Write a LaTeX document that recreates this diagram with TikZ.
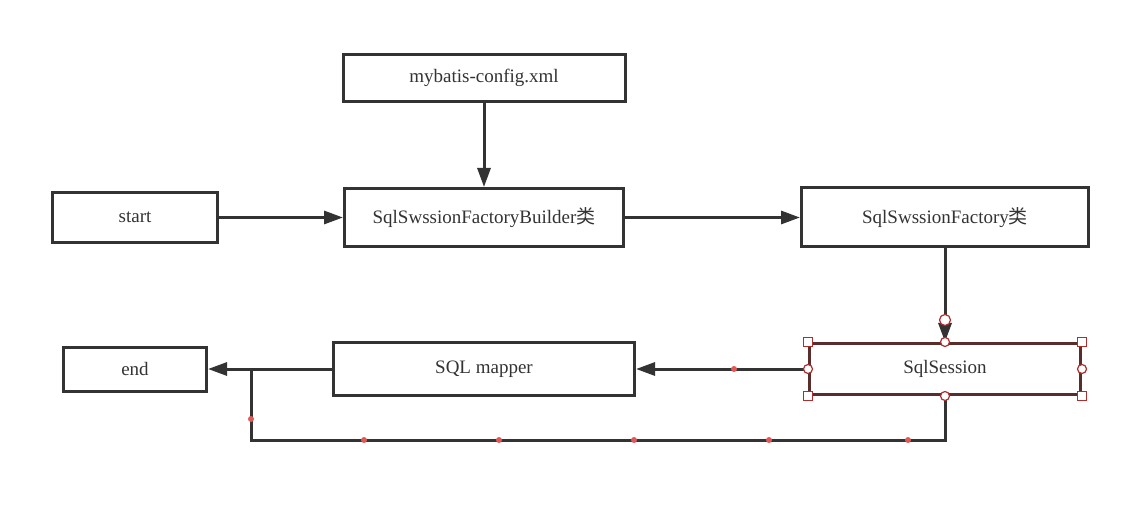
\documentclass[tikz,border=0pt]{standalone}
\usepackage{fontspec}
\setmainfont{Liberation Serif}
\newfontfamily\cjk{Noto Sans CJK SC}
\usetikzlibrary{arrows.meta,positioning}
\definecolor{flLine}{RGB}{51,51,51}
\definecolor{flSel}{RGB}{90,45,45}
\definecolor{flHandle}{RGB}{175,45,45}
\definecolor{flDot}{RGB}{225,88,88}

\begin{document}
\begin{tikzpicture}[x=1pt, y=-1pt,
  font=\fontsize{19}{23}\selectfont,
  box/.style={draw=flLine, line width=3pt, inner sep=0pt, align=center, text=flLine},
  arr/.style={-{Triangle[length=19pt, width=13pt]}, line width=3pt, draw=flLine},
  wire/.style={line width=3pt, draw=flLine},
  hsq/.style={draw=flHandle, fill=white, line width=1.2pt},
  hci/.style={draw=flHandle, fill=white, line width=1.2pt},
]
\useasboundingbox (0,0) rectangle (1145,510);
% top row
\node[box, minimum width=282pt, minimum height=47pt] (cfg) at (484,78) {mybatis-config.xml};
\node[box, minimum width=165pt, minimum height=50pt] (start) at (135,217.5) {start};
\node[box, minimum width=279pt, minimum height=58pt] (builder) at (484,217.5) {SqlSwssionFactoryBuilder{\cjk 类}};
\node[box, minimum width=287pt, minimum height=59pt] (factory) at (945,217.5) {SqlSwssionFactory{\cjk 类}};
% bottom row
\node[box, draw=flSel, minimum width=271pt, minimum height=51pt] (session) at (945,369) {SqlSession};
\node[box, minimum width=301pt, minimum height=53pt] (mapper) at (484,369) {SQL mapper};
\node[box, minimum width=143pt, minimum height=44pt] (end) at (135,369) {end};
% connectors
\draw[arr] (cfg) -- (builder);
\draw[arr] (start) -- (builder);
\draw[arr] (builder) -- (factory);
\draw[arr] (factory) -- (session);
\draw[arr] (session) -- (mapper);
\draw[arr] (mapper) -- (end);
\coordinate (join) at (251,369);
\draw[wire, line join=miter] (session.south) -- ++(0,44) -| (join);
% waypoints on the connectors
\foreach \p in {(734,369),(251,419),(364,440),(499,440),(634,440),(769,440),(908,440)}
  \fill[flDot] \p circle (3pt);
% selection handles
\foreach \a in {north west,north east,south west,south east}
  \filldraw[hsq] ([shift={(-4.5pt,-4.5pt)}]session.\a) rectangle ++(9pt,9pt);
\foreach \a in {north,south,east,west}
  \filldraw[hci] (session.\a) circle (4.5pt);
\filldraw[hci] (945,320) circle (5.5pt);
\end{tikzpicture}
\end{document}
